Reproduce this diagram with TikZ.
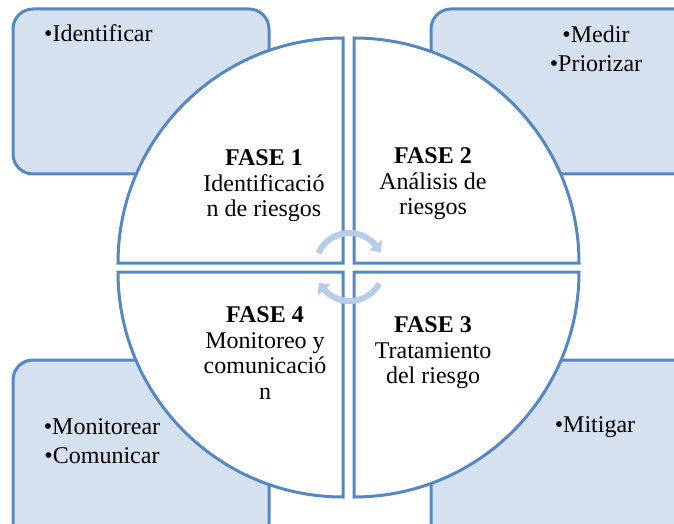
\documentclass[tikz,border=0pt]{standalone}
\usepackage{fontspec}
\setmainfont{Liberation Serif}
\usetikzlibrary{arrows.meta,bending}
\definecolor{bordc}{RGB}{84,136,196}
\definecolor{fillc}{RGB}{214,225,239}
\definecolor{arrc}{RGB}{183,204,233}
\tikzset{
  x=1pt,y=1pt,
  sidebox/.style={draw=bordc,fill=fillc,line width=3pt,rounded corners=20pt},
  quarter/.style={draw=bordc,fill=white,line width=3pt,line join=miter},
  cyc/.style={draw=arrc,line width=6pt,-{Triangle[bend,width=16pt,length=9pt]}},
  phase/.style={align=center,font=\fontsize{24}{25.5}\selectfont,inner sep=0pt},
  items/.style={align=center,font=\fontsize{24}{29}\selectfont,inner sep=0pt},
}
\begin{document}
\begin{tikzpicture}
\useasboundingbox (0,0) rectangle (674,523);
\clip (0,0) rectangle (674,523);
% side boxes
\draw[sidebox] (13,349) rectangle (269,514);
\draw[sidebox] (431,349) rectangle (700,514);
\draw[sidebox] (13,-20) rectangle (269,163);
\draw[sidebox] (431,-20) rectangle (700,163);
% quarters
\draw[quarter] (343,260) -- (118,260) arc[start angle=180,end angle=90,radius=225] -- cycle;
\draw[quarter] (354,260) -- (354,485) arc[start angle=90,end angle=0,radius=225] -- cycle;
\draw[quarter] (354,251) -- (579,251) arc[start angle=0,end angle=-90,radius=225] -- cycle;
\draw[quarter] (343,251) -- (343,26) arc[start angle=270,end angle=180,radius=225] -- cycle;
% cycle arrows
\coordinate (c) at (349.5,256);
\draw[cyc] ([shift={(156:34)}]c) arc[start angle=156,end angle=25,radius=34];
\draw[cyc] ([shift={(-29:34)}]c) arc[start angle=-29,end angle=-153,radius=34];
% phase texts
\node[phase] (f1) at (264,337) {\textbf{FASE 1}\\Identificació\\n de riesgos};
\node[phase] (f2) at (433,339) {\textbf{FASE 2}\\Análisis de\\riesgos};
\node[phase] (f3) at (433,170) {\textbf{FASE 3}\\Tratamiento\\del riesgo};
\node[phase] (f4) at (265,170) {\textbf{FASE 4}\\Monitoreo y\\comunicació\\n};
% items
\node[items,anchor=west] (i1) at (44,490) {•Identificar};
\node[items] (i2) at (596,474) {•Medir\\•Priorizar};
\node[items] (i3) at (102,82) {•Monitorear\\•Comunicar};
\node[items] (i4) at (595,96) {•Mitigar};
\end{tikzpicture}
\end{document}
